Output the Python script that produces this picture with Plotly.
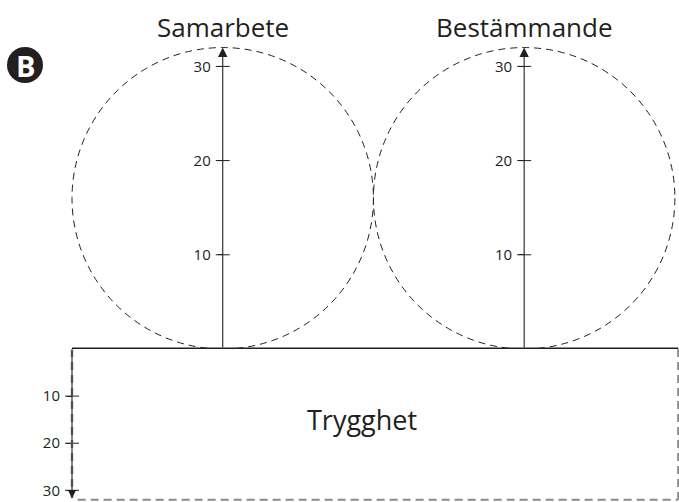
import plotly.graph_objects as go

# ---- data ----
top_categories = ["Samarbete", "Bestämmande"]
top_values = [32, 32]          # arrow length = circle diameter
bottom_category = "Trygghet"
bottom_value = 31.7
tick_values = [10, 20, 30]
tick_labels = ["10", "20", "30"]
panel_label = "B"

# ---- layout constants ----
W, H = 679, 502
PX_TOP = 9.42      # px per unit, top part (x and y)
PX_BOT = 4.71      # px per unit, bottom part (y)
BASE_PX = 349      # baseline pixel row
LEFT_PX = 72       # pixel column of x = 0
DARK = "#231f20"
GREY = "#8a8a8a"
FONT = "Open Sans"

xmin = -LEFT_PX / PX_TOP
xmax = xmin + W / PX_TOP
d0 = (H - BASE_PX) / H
ytop = BASE_PX / PX_TOP
ybot = (H - BASE_PX) / PX_BOT

# circle centers from cumulative diameters
centers = []
acc = 0.0
for v in top_values:
    centers.append(acc + v / 2)
    acc += v
rect_right = acc + 0.35

def xfrac(x):
    return (x - xmin) / (xmax - xmin)

fig = go.Figure()

shapes = []
annotations = []

# dashed circles
for cx, v in zip(centers, top_values):
    shapes.append(dict(type="circle", xref="x", yref="y",
                       x0=cx - v / 2, x1=cx + v / 2, y0=0, y1=v,
                       line=dict(color=DARK, width=1, dash="7px,5px")))
    # arrow axis
    annotations.append(dict(x=cx, y=v, ax=cx, ay=0, xref="x", yref="y",
                            axref="x", ayref="y", text="", showarrow=True,
                            arrowhead=2, arrowsize=1.7, arrowwidth=1.1,
                            arrowcolor=DARK, standoff=0, startstandoff=0))

# Trygghet rectangle: dashed right and bottom edges
shapes.append(dict(type="line", xref="x", yref="y3", x0=rect_right, x1=rect_right,
                   y0=0, y1=bottom_value + 0.3, line=dict(color=GREY, width=2, dash="8px,5px")))
shapes.append(dict(type="line", xref="x", yref="y3", x0=0.6, x1=rect_right,
                   y0=bottom_value + 0.3, y1=bottom_value + 0.3,
                   line=dict(color=GREY, width=2, dash="8px,5px")))
# left bottom axis as dashed grey under solid arrow
shapes.append(dict(type="line", xref="x", yref="y3", x0=0, x1=0,
                   y0=0, y1=bottom_value, line=dict(color=GREY, width=2.5, dash="8px,5px")))
annotations.append(dict(x=0, y=bottom_value, ax=0, ay=0, xref="x", yref="y3",
                        axref="x", ayref="y3", text="", showarrow=True,
                        arrowhead=2, arrowsize=1.5, arrowwidth=1.1,
                        arrowcolor=DARK, standoff=0, startstandoff=0))
# thick baseline
shapes.append(dict(type="line", xref="x", yref="y", x0=0, x1=rect_right,
                   y0=0, y1=0, line=dict(color=DARK, width=3)))

# titles
for cx, name in zip(centers, top_categories):
    annotations.append(dict(x=cx, y=(H - 27) / H, xref="x", yref="paper",
                            text=name, showarrow=False, yanchor="middle",
                            xanchor="center",
                            font=dict(family=FONT, size=26, color=DARK)))
annotations.append(dict(x=30.8, y=15, xref="x", yref="y3", text=bottom_category,
                        showarrow=False, xanchor="center", yanchor="middle",
                        font=dict(family=FONT, size=27, color=DARK)))

# panel label badge
shapes.append(dict(type="circle", xref="paper", yref="paper", layer="below",
                   x0=7 / W, x1=43 / W, y0=(H - 83) / H, y1=(H - 47) / H,
                   fillcolor=DARK, line=dict(color=DARK, width=0)))
annotations.append(dict(x=25.5 / W, y=(H - 65) / H, xref="paper", yref="paper",
                        xanchor="center", yanchor="middle",
                        text="<b>" + panel_label + "</b>", showarrow=False,
                        font=dict(family=FONT, size=29, color="white")))

# tick crossing marks (inner half) as markers on the data scale
for i, cx in enumerate(centers):
    fig.add_trace(go.Scatter(x=[cx] * len(tick_values), y=tick_values, mode="markers",
                             yaxis="y" if i == 0 else "y2",
                             marker=dict(symbol="line-ew", size=10,
                                         line=dict(color=DARK, width=1)),
                             hoverinfo="skip", showlegend=False))
fig.add_trace(go.Scatter(x=[0] * len(tick_values), y=tick_values, mode="markers",
                         yaxis="y3",
                         marker=dict(symbol="line-ew", size=10,
                                     line=dict(color=DARK, width=1)),
                         hoverinfo="skip", showlegend=False))

axis_common = dict(tickmode="array", tickvals=tick_values, ticktext=tick_labels,
                   ticks="outside", ticklen=5, tickwidth=1, tickcolor=DARK,
                   ticklabelstandoff=4,
                   showgrid=False, zeroline=False, showline=False,
                   automargin=False,
                   tickfont=dict(family=FONT, size=15, color=DARK))

fig.update_layout(
    template="none",
    width=W, height=H, margin=dict(l=0, r=0, t=0, b=0, pad=0),
    paper_bgcolor="white", plot_bgcolor="rgba(0,0,0,0)",
    showlegend=False,
    xaxis=dict(range=[xmin, xmax], domain=[0, 1], visible=False, anchor="y",
               automargin=False),
    yaxis=dict(range=[0, ytop], domain=[d0, 1], anchor="free",
               position=xfrac(centers[0]), **axis_common),
    yaxis2=dict(range=[0, ytop], overlaying="y", anchor="free", side="left",
                position=xfrac(centers[1]), **axis_common),
    yaxis3=dict(range=[ybot, 0], domain=[0, d0], anchor="free",
                position=xfrac(0), **axis_common),
    shapes=shapes,
    annotations=annotations,
)

fig.write_html("out.html", config={"displayModeBar": False},
               post_script="document.body.style.margin='0';document.body.style.overflow='hidden';")
